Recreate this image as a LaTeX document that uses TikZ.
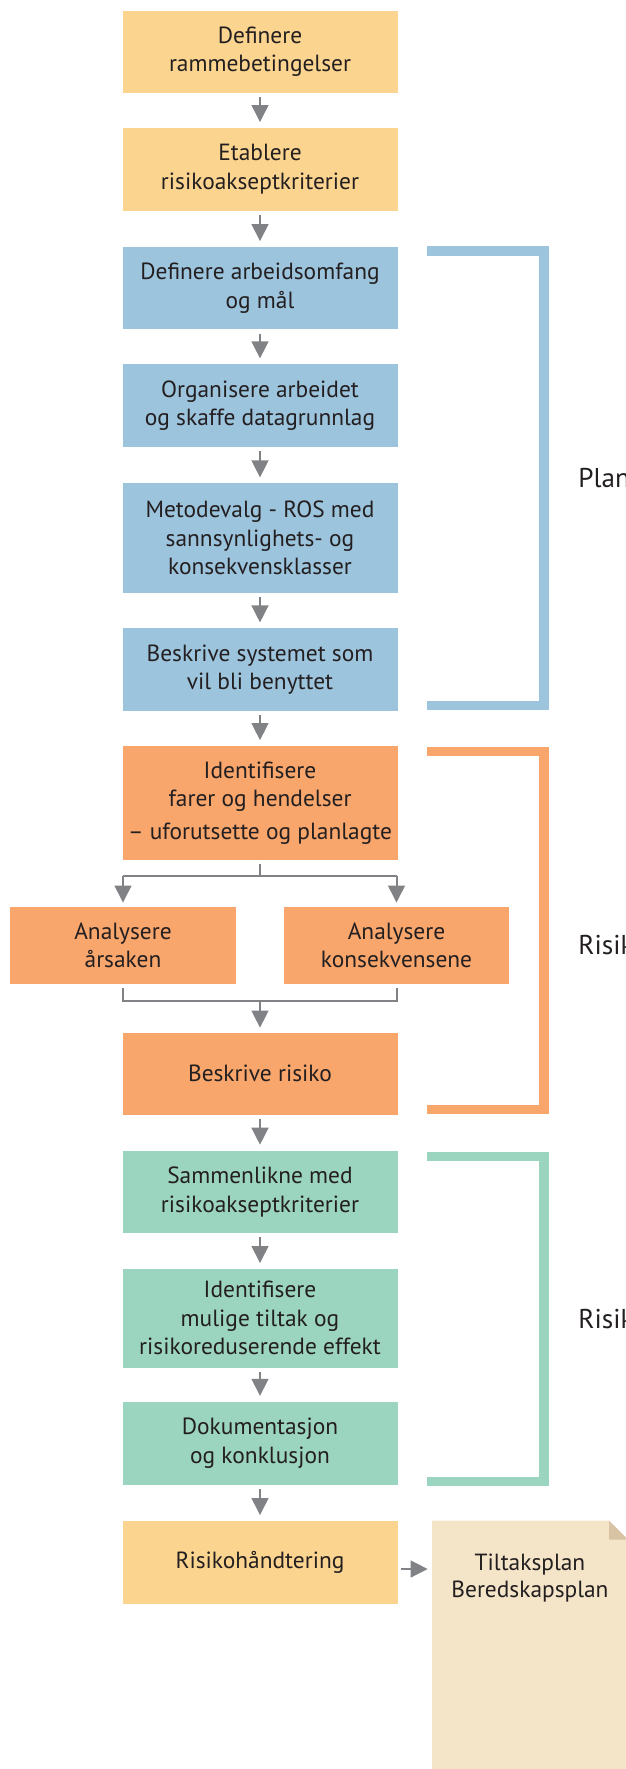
\documentclass[tikz,border=0pt]{standalone}
\usepackage{fontspec}
\setmainfont{PT Sans}
\usetikzlibrary{arrows.meta}
\definecolor{cyel}{HTML}{FBD48F}
\definecolor{cblu}{HTML}{9DC4DD}
\definecolor{cora}{HTML}{F8A66C}
\definecolor{cgrn}{HTML}{9CD5BF}
\definecolor{cdoc}{HTML}{F4E4C8}
\definecolor{cfold}{HTML}{D8C3A5}
\definecolor{cgry}{HTML}{808286}
\definecolor{ctxt}{HTML}{231F20}
\tikzset{
  box/.style={rectangle, inner sep=0pt, minimum width=137.5pt, align=center, text=ctxt,
    font=\fontsize{11.7}{14.25}\selectfont},
  yelbox/.style={box, fill=cyel},
  blubox/.style={box, fill=cblu},
  orabox/.style={box, fill=cora},
  grnbox/.style={box, fill=cgrn},
  arr/.style={draw=cgry, line width=1pt, -{Triangle[width=8.4pt,length=8.5pt]}},
  ln/.style={draw=cgry, line width=1pt},
  brk/.style={line width=4.75pt, line join=miter, line cap=butt},
  lbl/.style={anchor=west, inner sep=0pt, text=ctxt, font=\fontsize{13.6}{16}\selectfont},
  doctext/.style={align=center, inner sep=0pt, text=ctxt, font=\fontsize{11.7}{13.5}\selectfont},
  flow/.style={arr, shorten <=2pt, shorten >=2.75pt}
}
\begin{document}
\begin{tikzpicture}[x=0.5pt,y=-0.5pt]
\useasboundingbox (0,0) rectangle (626,1769);
\clip (0,0) rectangle (626,1769);

% brackets
\draw[brk, cblu] (427,250.75) -- (544,250.75) -- (544,705.25) -- (427,705.25);
\draw[brk, cora] (427,751.4) -- (544,751.4) -- (544,1109.3) -- (427,1109.3);
\draw[brk, cgrn] (427,1156.4) -- (544,1156.4) -- (544,1481.3) -- (427,1481.3);

\node[lbl] (lp) at (578,478) {Plan};
\node[lbl] (lr1) at (578,945) {Risik};
\node[lbl] (lr2) at (578,1319) {Risik};

% boxes
\node[yelbox, minimum height=41.1pt] (b1) at (260,51.6) {Definere\\rammebetingelser};
\node[yelbox, minimum height=41.35pt] (b2) at (260,169.3) {Etablere\\risikoakseptkriterier};
\node[blubox, minimum height=41.2pt] (b3) at (260,288.2) {Definere arbeidsomfang\\og mål};
\node[blubox, minimum height=41.2pt] (b4) at (260,405.5) {Organisere arbeidet\\og skaffe datagrunnlag};
\node[blubox, minimum height=54.7pt] (b5) at (260,538) {Metodevalg - ROS med\\sannsynlighets- og\\konsekvensklasser};
\node[blubox, minimum height=41.15pt] (b6) at (260,669.5) {Beskrive systemet som\\vil bli benyttet};
\node[orabox, minimum height=56.75pt] (o1) at (260,802.8) {Identifisere\\farer og hendelser\\[2pt]– uforutsette og planlagte};
\node[orabox, minimum width=113pt, minimum height=38.35pt] (o2a) at (123,945.3) {Analysere\\årsaken};
\node[orabox, minimum width=112.5pt, minimum height=38.35pt] (o2b) at (396.5,945.3) {Analysere\\konsekvensene};
\node[orabox, minimum height=40.75pt] (o3) at (260,1073.8) {Beskrive risiko};
\node[grnbox, minimum height=41.2pt] (g1) at (260,1191.8) {Sammenlikne med\\risikoakseptkriterier};
\node[grnbox, minimum height=49.35pt] (g2) at (260,1318.3) {Identifisere\\mulige tiltak og\\risikoreduserende effekt};
\node[grnbox, minimum height=41.65pt] (g3) at (260,1443.4) {Dokumentasjon\\og konklusjon};
\node[yelbox, minimum height=41.35pt] (y3) at (260,1562.3) {Risikohåndtering};

% document
\fill[cdoc] (432,1520.5) -- (609,1520.5) -- (628,1539.5) -- (628,1775) -- (432,1775) -- cycle;
\fill[cfold] (609,1520.5) -- (609,1539.5) -- (628,1539.5) -- cycle;
\node[doctext] (doc) at (530,1578) {Tiltaksplan\\Beredskapsplan};
\coordinate (docin) at (432,1569);

% flow arrows
\draw[flow] (b1.south) -- (b2.north);
\draw[flow] (b2.south) -- (b3.north);
\draw[flow] (b3.south) -- (b4.north);
\draw[flow] (b4.south) -- (b5.north);
\draw[flow] (b5.south) -- (b6.north);
\draw[flow] (b6.south) -- (o1.north);
\draw[flow] (o3.south) -- (g1.north);
\draw[flow] (g1.south) -- (g2.north);
\draw[flow] (g2.south) -- (g3.north);
\draw[flow] (g3.south) -- (y3.north);

% branch
\coordinate (sp) at (260,876);
\draw[ln] ([yshift=-2pt]o1.south) -- (sp);
\draw[ln] (o2a.north |- sp) -- (o2b.north |- sp);
\draw[arr] (o2a.north |- sp) -- ([yshift=2pt]o2a.north);
\draw[arr] (o2b.north |- sp) -- ([yshift=2pt]o2b.north);

% merge
\coordinate (mg) at (260,1001);
\draw[ln] ([yshift=-2.15pt]o2a.south) -- (o2a.south |- mg) -- (o2b.south |- mg) -- ([yshift=-2.15pt]o2b.south);
\draw[arr] (mg) -- ([yshift=2.5pt]o3.north);

% to document
\draw[arr, shorten <=1.5pt, shorten >=2.15pt] ([yshift=-3.35pt]y3.east) -- (docin);
\end{tikzpicture}
\end{document}
